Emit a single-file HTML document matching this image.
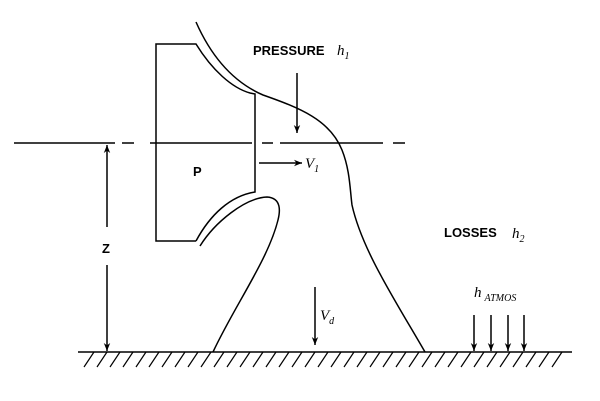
<!DOCTYPE html>
<html><head><style>body{margin:0;background:#fff}svg{display:block}</style></head><body>
<svg width="600" height="401" viewBox="0 0 600 401" xmlns="http://www.w3.org/2000/svg">
<defs><marker id="a" viewBox="0 0 10 10" refX="10" refY="5" markerWidth="8" markerHeight="8" markerUnits="userSpaceOnUse" orient="auto"><path d="M0,1 L10,5 L0,9 L3,5z" fill="#000"/></marker></defs>
<g fill="none" stroke="#000" stroke-width="1.5">
<path d="M14,143 H115 M122,143 H134 M150,143 H252 M262,143 H273 M280,143 H383 M393,143 H405"/>
<path d="M196,241 H156 V44 H196 C212,70 232,88 250,93 L255,94 V192 C230,196 210,215 196,241"/>
<path d="M196,22 C215,65 240,85 263,95 C300,108 330,120 342,150 C350,170 350,190 352,205 C362,250 395,300 425,352"/>
<path d="M200,246 C215,222 245,198 267,197 C282,198 280,212 278,220 C268,260 235,305 213,352"/>
<path d="M78,352 H572"/>
</g>
<g stroke="#000" stroke-width="1.2">
<path d="M84,367 L94,352 M97,367 L107,352 M110,367 L120,352 M123,367 L133,352 M136,367 L146,352 M149,367 L159,352 M162,367 L172,352 M175,367 L185,352 M188,367 L198,352 M201,367 L211,352 M214,367 L224,352 M227,367 L237,352 M240,367 L250,352 M253,367 L263,352 M266,367 L276,352 M279,367 L289,352 M292,367 L302,352 M305,367 L315,352 M318,367 L328,352 M331,367 L341,352 M344,367 L354,352 M357,367 L367,352 M370,367 L380,352 M383,367 L393,352 M396,367 L406,352 M409,367 L419,352 M422,367 L432,352 M435,367 L445,352 M448,367 L458,352 M461,367 L471,352 M474,367 L484,352 M487,367 L497,352 M500,367 L510,352 M513,367 L523,352 M526,367 L536,352 M539,367 L549,352 M552,367 L562,352"/>
</g>
<g stroke="#000" stroke-width="1.5" fill="none">
<line x1="297" y1="73" x2="297" y2="133" marker-end="url(#a)"/>
<line x1="259" y1="163" x2="302" y2="163" marker-end="url(#a)"/>
<line x1="315" y1="287" x2="315" y2="345" marker-end="url(#a)"/>
<line x1="107" y1="227" x2="107" y2="145" marker-end="url(#a)"/>
<line x1="107" y1="265" x2="107" y2="351" marker-end="url(#a)"/>
<line x1="474" y1="315" x2="474" y2="351" marker-end="url(#a)"/>
<line x1="491" y1="315" x2="491" y2="351" marker-end="url(#a)"/>
<line x1="508" y1="315" x2="508" y2="351" marker-end="url(#a)"/>
<line x1="524" y1="315" x2="524" y2="351" marker-end="url(#a)"/>
</g>
<g font-family="Liberation Sans, sans-serif" font-weight="bold" font-size="13" fill="#000">
<text x="253" y="55">PRESSURE</text>
<text x="193" y="176">P</text>
<text x="102" y="253">Z</text>
<text x="444" y="237">LOSSES</text>
</g>
<g font-family="Liberation Serif, serif" font-style="italic" font-size="15" fill="#000">
<text x="337" y="55">h<tspan font-size="10" dy="4">1</tspan></text>
<text x="305" y="168">V<tspan font-size="10" dy="4">1</tspan></text>
<text x="320" y="320">V<tspan font-size="10" dy="4">d</tspan></text>
<text x="512" y="238">h<tspan font-size="10" dy="4">2</tspan></text>
<text x="474" y="297">h<tspan font-size="10" dy="4" dx="3">ATMOS</tspan></text>
</g>
</svg>
</body></html>
